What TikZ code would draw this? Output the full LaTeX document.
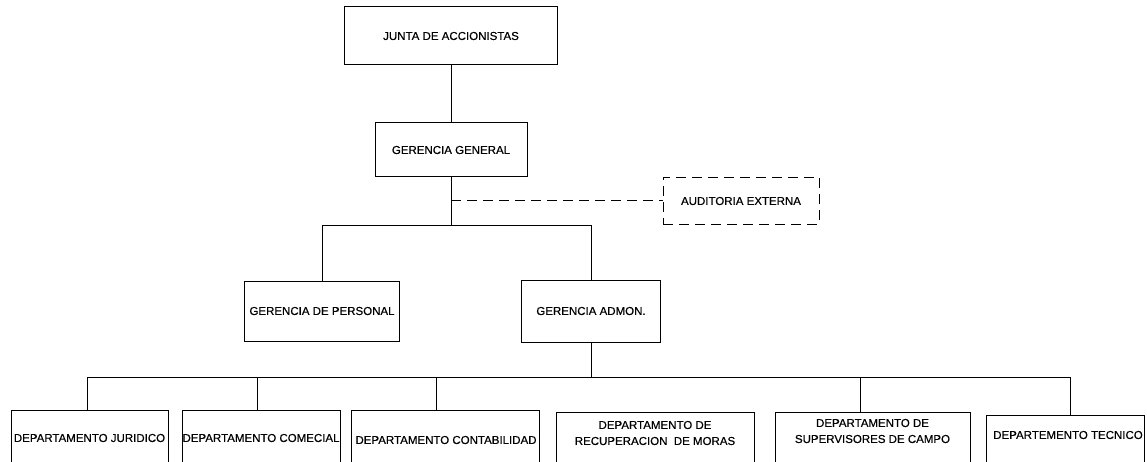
\documentclass[tikz,border=0pt]{standalone}
\usepackage{fontspec}
\setmainfont{Liberation Sans}
\newfontfamily\orgfam[FakeBold=0.4]{Liberation Sans}
\usetikzlibrary{calc}
\newcommand{\orgfont}{\orgfam\fontsize{11.5}{16}\selectfont}
\begin{document}
\begin{tikzpicture}[x=1pt,y=-1pt,
  orgbox/.style={draw, line width=1pt, inner sep=0pt, align=center, font=\orgfont},
  deptbox/.style={draw, line width=1pt, inner sep=0pt, anchor=north, minimum height=100pt},
  dtext/.style={inner sep=0pt, align=center, font=\orgfont},
  conn/.style={line width=1pt},
  dashconn/.style={line width=1pt, dash pattern=on 10pt off 6pt}]
\useasboundingbox (0,0) rectangle (1147,462);
\clip (0,0) rectangle (1147,462);
\fill[white] (0,0) rectangle (1147,462);

% upper boxes
\node[orgbox, minimum width=213pt, minimum height=58pt] (junta) at (451,36) {JUNTA DE ACCIONISTAS};
\node[orgbox, minimum width=152pt, minimum height=54pt] (gg) at (451,150) {GERENCIA GENERAL};
\node[orgbox, dashconn, minimum width=156pt, minimum height=47pt] (aud) at (741,201) {AUDITORIA EXTERNA};
\node[orgbox, minimum width=155pt, minimum height=60pt] (pers) at (322,311) {GERENCIA DE PERSONAL};
\node[orgbox, minimum width=139pt, minimum height=62pt] (adm) at (591,311) {GERENCIA ADMON.};

% department boxes
\node[deptbox, minimum width=157pt] (d1) at (89.5,410) {};
\node[deptbox, minimum width=158pt] (d2) at (261,410) {};
\node[deptbox, minimum width=188pt] (d3) at (445,410) {};
\node[deptbox, minimum width=198pt] (d4) at (655,412) {};
\node[deptbox, minimum width=195pt] (d5) at (872.5,412) {};
\node[deptbox, minimum width=158pt] (d6) at (1065,415) {};

\node[dtext] (t1) at (89.5,438) {DEPARTAMENTO JURIDICO};
\node[dtext] (t2) at (261,438) {DEPARTAMENTO COMECIAL};
\node[dtext] (t3) at (446,440) {DEPARTAMENTO CONTABILIDAD};
\node[dtext] (t4) at (655,433) {DEPARTAMENTO DE\\RECUPERACION~ DE MORAS};
\node[dtext] (t5) at (872.5,431) {DEPARTAMENTO DE\\SUPERVISORES DE CAMPO};
\node[dtext] (t6) at (1068,435) {DEPARTEMENTO TECNICO};

% connector coordinates
\coordinate (brL) at (322,226);
\coordinate (brR) at (591,226);
\coordinate (bus) at (0,377);
\coordinate (b1) at (87,377);
\coordinate (b2) at (257,377);
\coordinate (b3) at (436,377);
\coordinate (b5) at (860,377);
\coordinate (b6) at (1070,377);

% connectors
\draw[conn] (junta.south) -- (gg.north);
\draw[conn] (gg.south) -- (gg.south |- brL);
\draw[dashconn] (gg.south |- aud.west) -- (aud.west);
\draw[conn] (pers.north) -- (brL) -- (brR) -- (adm.north);
\draw[conn] (adm.south) -- (adm.south |- bus);
\draw[conn] (b1) -- (b6);
\draw[conn] (b1) -- (b1 |- d1.north);
\draw[conn] (b2) -- (b2 |- d2.north);
\draw[conn] (b3) -- (b3 |- d3.north);
\draw[conn] (b5) -- (b5 |- d5.north);
\draw[conn] (b6) -- (b6 |- d6.north);
\end{tikzpicture}
\end{document}
